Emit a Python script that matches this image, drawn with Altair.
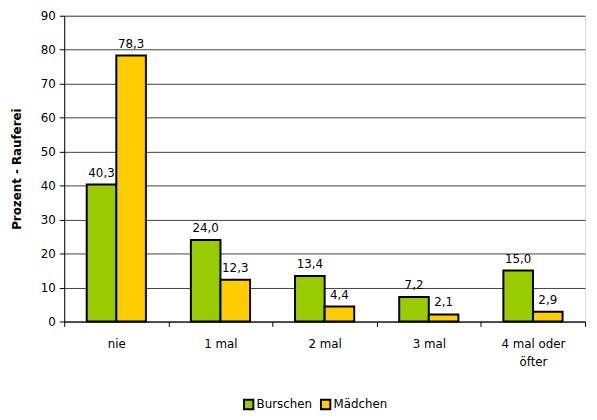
import altair as alt
import pandas as pd

categories = ["nie", "1 mal", "2 mal", "3 mal", "4 mal oder öfter"]
series = ["Burschen", "Mädchen"]
burschen = [40.3, 24.0, 13.4, 7.2, 15.0]
maedchen = [78.3, 12.3, 4.4, 2.1, 2.9]

rows = []
for i, c in enumerate(categories):
    for s, vals in zip(series, [burschen, maedchen]):
        v = vals[i]
        rows.append({"cat": c, "series": s, "value": v,
                     "label": f"{v:.1f}".replace(".", ",")})
df = pd.DataFrame(rows)

FONT = "DejaVu Sans"
FS = 12

x = alt.X("cat:N", sort=categories, title=None,
          scale=alt.Scale(paddingInner=0, paddingOuter=0),
          axis=alt.Axis(tickBand="extent", labelAngle=0, labelFontSize=FS,
                        labelFont=FONT, labelColor="#000", domainColor="#000",
                        tickColor="#000", tickSize=5, labelPadding=12,
                        labelExpr="datum.value == '4 mal oder öfter' ? ['4 mal oder', 'öfter'] : datum.value",
                        labelLineHeight=19, grid=False))
xo = alt.XOffset("series:N", sort=series,
                 scale=alt.Scale(paddingInner=0, paddingOuter=0.76))
y = alt.Y("value:Q", title="Prozent - Rauferei",
          scale=alt.Scale(domain=[0, 90]),
          axis=alt.Axis(values=list(range(0, 100, 10)), labelFontSize=FS,
                        labelFont=FONT, labelColor="#000", titleFont=FONT,
                        titleFontSize=FS, titleFontWeight="bold", titleColor="#000",
                        domainColor="#000", tickColor="#000", tickSize=5,
                        labelPadding=4,
                        gridColor="#404040", gridWidth=1, titlePadding=17))

color = alt.Color("series:N", sort=series, title=None,
                  scale=alt.Scale(domain=series, range=["#99CC00", "#FFCC00"]),
                  legend=alt.Legend(orient="none", legendX=181, legendY=388,
                                    direction="horizontal", symbolType="square",
                                    symbolSize=90, symbolStrokeColor="#000",
                                    symbolStrokeWidth=2, labelFont=FONT,
                                    labelFontSize=FS, labelColor="#000",
                                    columnPadding=4, labelOffset=2))

bars = alt.Chart(df).mark_bar(stroke="#000", strokeWidth=2).encode(
    x=x, xOffset=xo, y=y, color=color)

text = alt.Chart(df).mark_text(dy=-5, baseline="bottom", fontSize=FS,
                               font=FONT, color="#000").encode(
    x=x, xOffset=xo, y=y, text="label:N")

chart = (bars + text).properties(
    width=528, height=310,
    autosize=alt.AutoSizeParams(type="none"),
    padding={"left": 57, "top": 5, "right": 4, "bottom": 98},
).configure_view(stroke=None).configure(background="white")

chart.save("out.html", embed_options={"renderer": "svg", "actions": False})
